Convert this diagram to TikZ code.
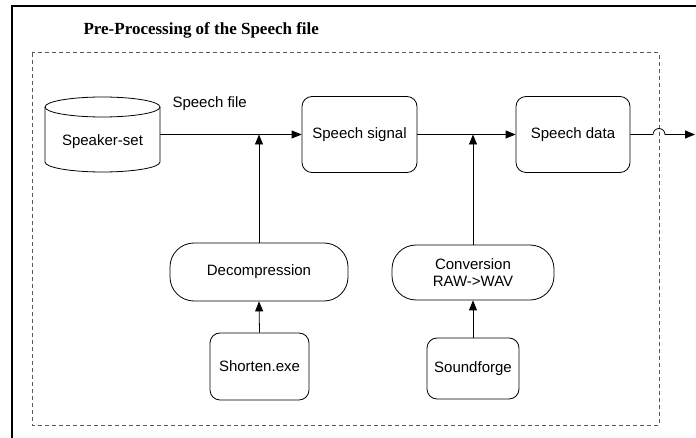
\documentclass[tikz,border=0pt]{standalone}
\usepackage{fontspec}
\setmainfont{Liberation Sans}
\newfontfamily\titlefont{Liberation Serif}
\usetikzlibrary{arrows.meta}
\begin{document}
\begin{tikzpicture}[x=1pt,y=-1pt,
  every node/.style={font=\fontsize{15}{17}\selectfont},
  box/.style={draw, line width=0.8pt, rounded corners=10pt, align=center, inner sep=2pt},
  stad/.style={draw, line width=0.8pt, rounded corners=24pt, align=center, inner sep=2pt},
  arr/.style={line width=0.8pt, -{Triangle[length=10pt,width=8pt]}},
  conn/.style={line width=0.8pt}]
\useasboundingbox (0,0) rectangle (696,438);
% outer frame
\draw[line width=2pt] (11.5,438) -- (11.5,6.5) -- (696,6.5);
% dashed group
\draw[line width=1pt, gray!70!black, dash pattern=on 4pt off 3pt] (32,53) rectangle (659,425);
% title
\node[anchor=west, font=\titlefont\bfseries\fontsize{17}{19}\selectfont] (title) at (80,30) {Pre-Processing of the Speech file};
% cylinder
\node[minimum width=115pt, minimum height=76pt, inner sep=0pt] (spk) at (102.5,134.5) {};
\draw[line width=0.8pt] (45,107) -- (45,162) arc[start angle=180, end angle=360, x radius=57.5pt, y radius=10pt] -- (160,107);
\draw[line width=0.8pt] (102.5,107) ellipse [x radius=57.5pt, y radius=10pt];
\node (spktext) at (102.5,142) {Speaker-set};
\node[anchor=west] (lbl) at (169,104) {Speech file};
% boxes
\node[box, minimum width=115pt, minimum height=76pt] (sig) at (359.5,134.5) {Speech signal};
\node[box, minimum width=114pt, minimum height=76pt] (dat) at (573,134.5) {Speech data};
\node[stad, minimum width=178pt, minimum height=58pt] (dec) at (259,272) {Decompression};
\node[stad, minimum width=162pt, minimum height=55pt] (conv) at (473,272.5) {Conversion\\RAW->WAV};
\node[box, minimum width=99pt, minimum height=67pt] (sho) at (259.5,366.5) {Shorten.exe};
\node[box, minimum width=92pt, minimum height=61pt] (snd) at (473,368.5) {Soundforge};
% junctions
\coordinate (j1) at (dec.north |- sig.west);
\coordinate (j2) at (conv.north |- dat.west);
\coordinate (out) at (695,134.5);
% connectors
\draw[arr] (spk.east) -- (sig.west);
\draw[arr] (sig.east) -- (dat.west);
\draw[arr] (dec.north) -- (j1);
\draw[arr] (conv.north) -- (j2);
\draw[arr] (sho.north) -- (dec.south);
\draw[arr] (snd.north) -- (conv.south);
\draw[arr] (dat.east) -- (653,134.5) arc[start angle=180, end angle=0, radius=6pt] -- (out);
\end{tikzpicture}
\end{document}
